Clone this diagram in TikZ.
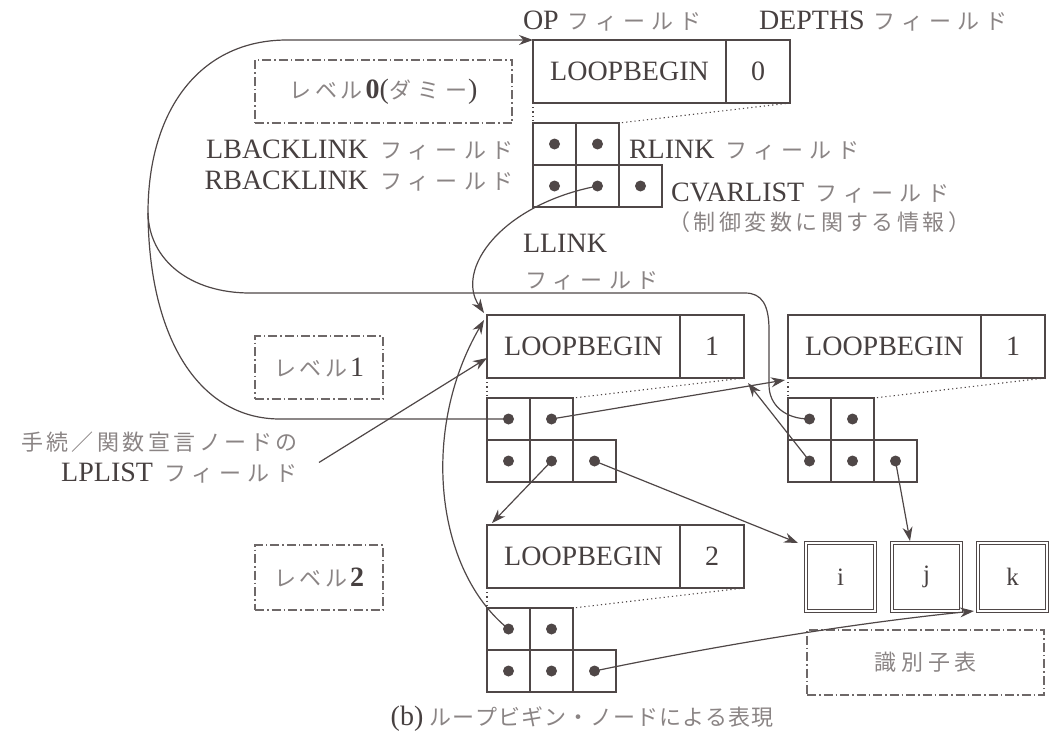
\documentclass[tikz,border=0pt]{standalone}
\usepackage{fontspec}
\setmainfont{Liberation Serif}
\newfontfamily\jpfont{Noto Sans CJK JP}
\usetikzlibrary{arrows.meta,calc}
\definecolor{linec}{HTML}{4F4747}
\definecolor{txtc}{HTML}{474040}
\definecolor{jpc}{HTML}{8A8484}
\definecolor{dashc}{HTML}{6E6868}
\newlength\jgap
\def\Jloop#1{\ifx#1\relax\else#1\hspace{\jgap}\expandafter\Jloop\fi}
\newcommand{\J}[2][6pt]{{\jpfont\fontsize{22}{26}\selectfont\color{jpc}\setlength\jgap{#1}\Jloop#2\relax\unskip}}
\newcommand{\lbnode}[4]{%
  \node[hdr,minimum width=193pt] (#1op) at (#2,#3) {LOOPBEGIN};
  \node[hdr,minimum width=64pt] (#1dp) at (#1op.north east) {#4};
  \node[cellbox] (#1a) at (#2,#3+83) {};
  \node[cellbox] (#1b) at (#1a.north east) {};
  \node[cellbox] (#1c) at (#1a.south west) {};
  \node[cellbox] (#1d) at (#1c.north east) {};
  \node[cellbox] (#1e) at (#1d.north east) {};
  \foreach \cc in {a,b,c,d,e} {\fill[linec] (#1\cc) circle (5.5pt);}
  \draw[dotl] (#1op.south west) -- (#1a.north west);
  \draw[dotl] (#1dp.south east) -- (#1b.north east);
}
\begin{document}
\begin{tikzpicture}[x=1pt,y=-1pt,
  hdr/.style={draw=linec,line width=1.4pt,minimum height=63pt,inner sep=0pt,outer sep=0pt,anchor=north west,font=\fontsize{28}{31}\selectfont,text=txtc},
  cellbox/.style={draw=linec,line width=1.4pt,minimum width=43pt,minimum height=42pt,inner sep=0pt,outer sep=0pt,anchor=north west},
  dotl/.style={draw=linec,line width=1.1pt,dash pattern=on 1.2pt off 3pt},
  conn/.style={draw=linec,line width=1.2pt},
  arr/.style={conn,-{Stealth[length=14pt,width=10pt]}},
  lvl/.style={draw=dashc,line width=1.3pt,dash pattern=on 9pt off 3pt on 1.5pt off 3pt,inner sep=0pt,outer sep=0pt,anchor=north west,font=\fontsize{28}{31}\selectfont,text=txtc},
  lab/.style={inner sep=0pt,outer sep=0pt,font=\fontsize{28}{31}\selectfont,text=txtc},
  idbox/.style={draw=linec,line width=1pt,double=white,double distance=2.5pt,minimum width=69pt,minimum height=68pt,inner sep=0pt,outer sep=0pt,anchor=north west,font=\fontsize{25}{28}\selectfont,text=txtc}
]
\useasboundingbox (0,0) rectangle (1056,741);

% loop nodes
\lbnode{L0}{533}{40}{0}
\lbnode{L1a}{487}{315}{1}
\lbnode{L1b}{788}{315}{1}
\lbnode{L2}{487}{525}{2}

% level boxes
\node[lvl,minimum width=257pt,minimum height=63pt] (lv0) at (255,60) {\J[3.5pt]{レベル}\hspace{3pt}\textbf{0}(\J[6.5pt]{ダミー})};
\node[lvl,minimum width=128pt,minimum height=63pt] (lv1) at (255,336) {\J[3.5pt]{レベル}\hspace{3pt}1};
\node[lvl,minimum width=128pt,minimum height=65pt] (lv2) at (255,545) {\J[3.5pt]{レベル}\hspace{3pt}\textbf{2}};

% identifier table
\node[idbox] (iv) at (806,543) {i};
\node[idbox] (jv) at (892,543) {j};
\node[idbox] (kv) at (978,543) {k};
\node[lvl,minimum width=237pt,minimum height=65pt] (idt) at (807,630) {\J[5pt]{識別子表}};

% labels
\node[lab,anchor=base west] (opl) at (523,30) {OP\hspace{9pt}\J{フィールド}};
\node[lab,anchor=base west] (dpl) at (759,30) {DEPTHS\hspace{9pt}\J{フィールド}};
\node[lab,anchor=base east] (lbl) at (514,158) {LBACKLINK\hspace{12pt}\J{フィールド}};
\node[lab,anchor=base east] (rbl) at (514,189) {RBACKLINK\hspace{12pt}\J{フィールド}};
\node[lab,anchor=base west] (rll) at (629,158) {RLINK\hspace{11pt}\J{フィールド}};
\node[lab,anchor=base west] (cvl) at (671,201) {CVARLIST\hspace{11pt}\J{フィールド}};
\node[lab,anchor=base west] (cvl2) at (668,230) {\J[3.5pt]{（制御変数に関する情報）}};
\node[lab,anchor=base west] (lll) at (523,252) {LLINK};
\node[lab,anchor=base west] (lll2) at (525,288) {\J{フィールド}};
\node[lab,anchor=base east] (lpl1) at (298,450) {\J[3.5pt]{手続／関数宣言ノードの}};
\node[lab,anchor=base east] (lpl2) at (298,481) {LPLIST\hspace{11pt}\J{フィールド}};
\node[lab,anchor=base] (cap) at (582,725) {(b)\hspace{6pt}\J[1pt]{ループビギン・ノードによる表現}};

% back-link curves to level 0
\coordinate (J) at (148,213);
\coordinate (T) at (287,40);
\draw[arr] (J) .. controls (148,110) and (200,40) .. (T) -- (L0op.north west);
\draw[conn] (L1aa.center) -- (280,419) .. controls (200,419) and (149,340) .. (J);
\draw[conn] (L1ba.center) .. controls (785,419) and (769,405) .. (769,385) -- (769,330)
   .. controls (769,305) and (762,293) .. (745,293) -- (250,293) .. controls (190,293) and (149,260) .. (J);

% other links
\draw[arr] (L0d.center) .. controls (500,205) and (455,270) .. ([shift={(-3pt,2pt)}]L1aop.north west);
\draw[arr] (L2a.center) .. controls (435,570) and (420,430) .. ([shift={(-3pt,-5pt)}]L1aop.north west);
\draw[arr] ([xshift=21pt]lpl2.north east) -- ([yshift=20pt]L1aop.south west);
\draw[arr] (L1ab.center) -- ([shift={(-3pt,-2pt)}]L1bop.south west);
\draw[arr] (L1bc.center) -- ([shift={(4pt,-5pt)}]L1adp.south east);
\draw[arr] (L1ad.center) -- ([shift={(5pt,2pt)}]L2op.north west);
\draw[arr] (L1ae.center) -- ([xshift=-8pt]iv.north west);
\draw[arr] (L1be.center) -- ([shift={(18pt,2pt)}]jv.north west);
\draw[arr] (L2e.center) .. controls +(120,-25) and +(-120,12) .. ([xshift=-4pt]kv.south west);
\end{tikzpicture}
\end{document}
